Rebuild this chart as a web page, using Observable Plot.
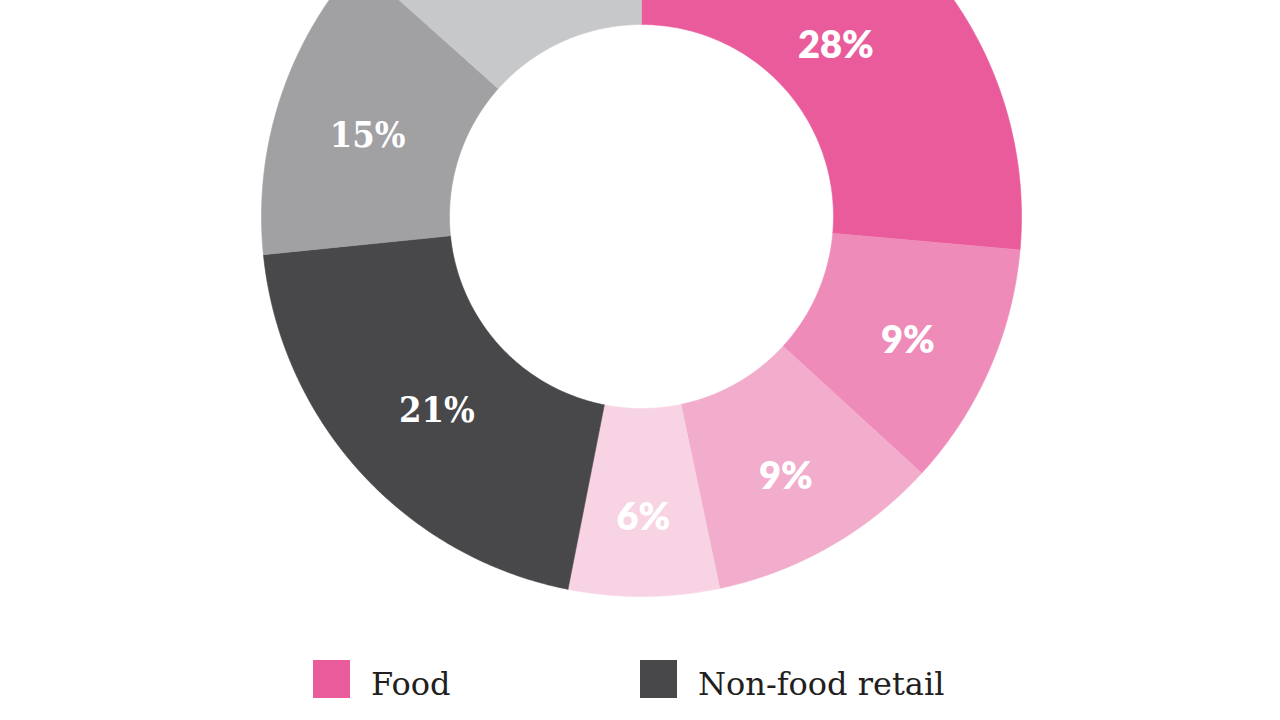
<!DOCTYPE html>
<html><head><meta charset="utf-8">
<script src="https://cdn.jsdelivr.net/npm/d3@7"></script>
<script src="https://cdn.jsdelivr.net/npm/@observablehq/plot@0.6"></script>
<style>
body{margin:0;background:#fff;width:1280px;height:720px;overflow:hidden;}
#legend{position:relative;height:70px;font-family:"DejaVu Serif",serif;font-size:32px;color:#231f20;}
.item{position:absolute;top:10px;display:flex;align-items:center;height:38px;}
.sw{width:37px;height:38px;margin-right:21px;}
.lbl{position:relative;top:5px;}
</style></head>
<body><div id="chart"></div><div id="legend"></div>
<script>
// Segments clockwise from 12 o'clock
const segments = ["Food 1","Food 2","Food 3","Food 4","Non-food retail","Other 1","Other 2"];
const groups   = ["Food","Food","Food","Food","Non-food retail","Other","Other"];
// shares (percent of the ring)
const shares   = [26.4, 10.4, 9.9, 6.4, 20.3, 13.2, 13.4];
const labels   = ["28%","9%","9%","6%","21%","15%",""];
const colors   = ["#ea5b9b","#ef8bb8","#f2accc","#f8d3e4","#48474a","#a1a1a4","#c7c8ca"];
const legendNames  = ["Food","Non-food retail"];
const legendColors = ["#ea5b9b","#48474a"];

const W = 1280, H = 650, CX = 641, CY = 216, R = 380;
const inner = 192 / 380;

const pie = d3.pie().sort(null).value(d => d)(shares);
const pts = [];
const labelData = [];
pie.forEach((p, i) => {
  const a0 = p.startAngle, a1 = p.endAngle, n = 120;
  for (let k = 0; k <= n; k++) { const t = a0 + (a1 - a0) * k / n; pts.push({seg: segments[i], x: Math.sin(t), y: Math.cos(t)}); }
  for (let k = n; k >= 0; k--) { const t = a0 + (a1 - a0) * k / n; pts.push({seg: segments[i], x: inner * Math.sin(t), y: inner * Math.cos(t)}); }
  pts.push({seg: segments[i], x: Math.sin(a0), y: Math.cos(a0)});
  // label at the area centroid of the annular sector
  const m = (a0 + a1) / 2, h = (a1 - a0) / 2;
  const rc = (2 / 3) * (1 - inner ** 3) / (1 - inner ** 2) * Math.sin(h) / h;
  labelData.push({label: labels[i], group: groups[i], x: rc * Math.sin(m), y: rc * Math.cos(m)});
});

const chart = Plot.plot({
  width: W, height: H, margin: 0,
  x: {domain: [-CX / R, (W - CX) / R], axis: null},
  y: {domain: [-(H - CY) / R, CY / R], axis: null},
  color: {domain: segments, range: colors},
  marks: [
    Plot.line(pts, {x: "x", y: "y", z: "seg", fill: "seg", stroke: "seg", strokeWidth: 0.6, curve: "linear"}),
    Plot.text(labelData.filter(d => d.group === "Food"), {x: "x", y: "y", text: "label", fill: "white", dy: 7,
      fontFamily: "Lato, 'Open Sans', sans-serif", fontWeight: 800, fontSize: 38}),
    Plot.text(labelData.filter(d => d.group !== "Food"), {x: "x", y: "y", text: "label", fill: "white", dy: 8,
      fontFamily: "'DejaVu Serif Condensed', 'DejaVu Serif', serif", fontWeight: 700, fontSize: 36})
  ]
});
chart.style.background = "#fff";
document.getElementById("chart").appendChild(chart);

const lg = document.getElementById("legend");
const xs = [313, 640];
legendNames.forEach((name, i) => {
  const it = document.createElement("div");
  it.className = "item"; it.style.left = xs[i] + "px";
  it.innerHTML = `<div class="sw" style="background:${legendColors[i]}"></div><span class="lbl">${name}</span>`;
  lg.appendChild(it);
});
</script></body></html>
